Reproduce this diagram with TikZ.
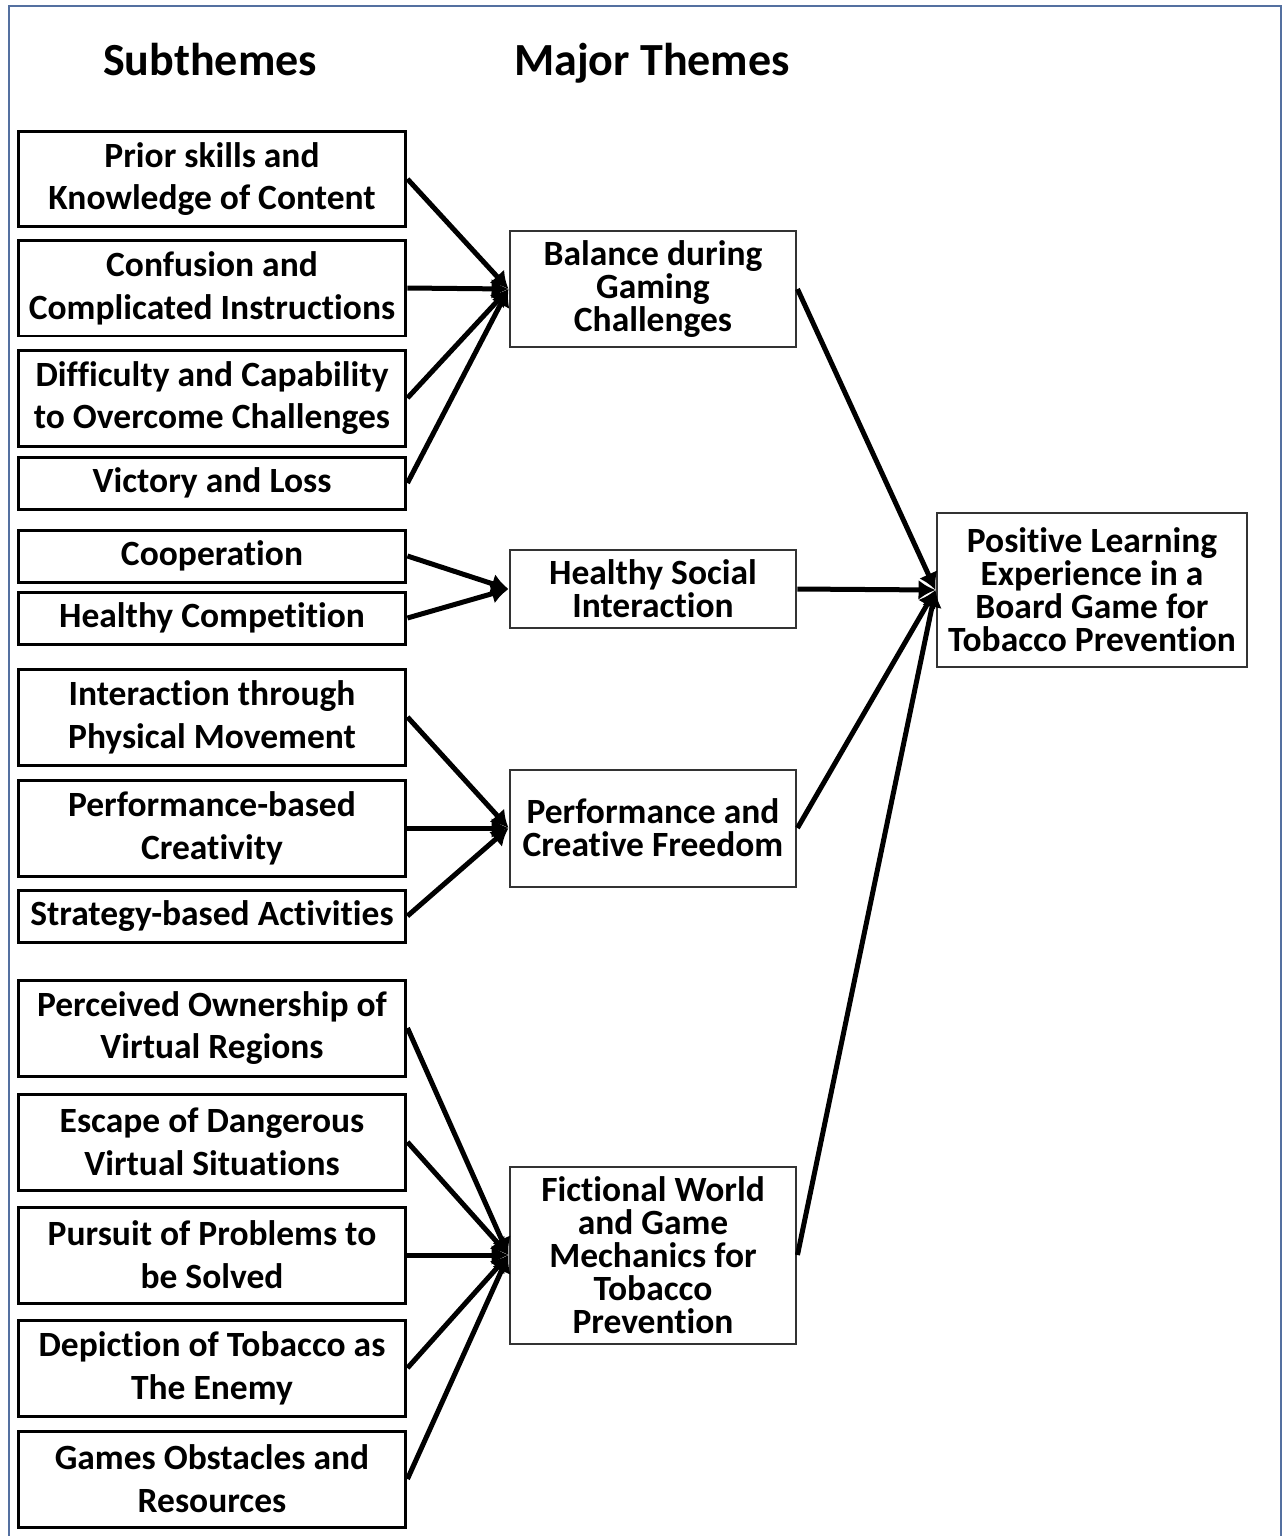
\documentclass[tikz,border=0pt]{standalone}
\usepackage{fontspec}
\setmainfont{Carlito}[Ligatures=NoCommon]
\usetikzlibrary{arrows.meta,positioning}
\definecolor{framecol}{RGB}{84,112,160}

\begin{document}
\begin{tikzpicture}[x=0.02cm,y=-0.02cm]
    \useasboundingbox (0,0) rectangle (1285,1536);
    \draw[framecol, line width=0.04cm] (9,1560) -- (9,6) -- (1281,6) -- (1281,1560);

    \tikzset{every node/.style={align=center,inner sep=0pt},
        sub/.style={draw,line width=0.06cm,minimum width=7.76cm,minimum height=1.92cm,
            font=\bfseries\fontsize{20.2}{24.4}\selectfont},
        subthin/.style={sub,minimum height=1.04cm},
        major/.style={draw=black!80,line width=0.04cm,minimum width=5.74cm,
            font=\bfseries\fontsize{20.2}{18.8}\selectfont},
        head/.style={anchor=base,font=\bfseries\fontsize{26.2}{30}\selectfont},
        arr/.style={line width=0.1cm,-{Latex[length=0.34cm,width=0.4cm]}}}

    % headers
    \node[head] (hsub) at (210,75) {Subthemes};
    \node[head] (hmaj) at (652,75) {Major Themes};

    % subthemes
    \node[sub]     (s1)  at (212,179)  {Prior skills and\\Knowledge of Content};
    \node[sub]     (s2)  at (212,288)  {Confusion and\\Complicated Instructions};
    \node[sub]     (s3)  at (212,398)  {Difficulty and Capability\\to Overcome Challenges};
    \node[subthin] (s4)  at (212,483)  {Victory and Loss};
    \node[subthin] (s5)  at (212,556)  {Cooperation};
    \node[subthin] (s6)  at (212,618)  {Healthy Competition};
    \node[sub]     (s7)  at (212,717)  {Interaction through\\Physical Movement};
    \node[sub]     (s8)  at (212,828)  {Performance-based\\Creativity};
    \node[subthin] (s9)  at (212,916)  {Strategy-based Activities};
    \node[sub]     (s10) at (212,1028) {Perceived Ownership of\\Virtual Regions};
    \node[sub]     (s11) at (212,1142) {Escape of Dangerous\\Virtual Situations};
    \node[sub]     (s12) at (212,1255) {Pursuit of Problems to\\be Solved};
    \node[sub]     (s13) at (212,1368) {Depiction of Tobacco as\\The Enemy};
    \node[sub]     (s14) at (212,1479) {Games Obstacles and\\Resources};

    % major themes
    \node[major,minimum height=2.34cm] (bal)  at (653,289)  {Balance during\\Gaming\\Challenges};
    \node[major,minimum height=1.56cm] (soc)  at (653,589)  {Healthy Social\\Interaction};
    \node[major,minimum height=2.34cm] (perf) at (653,828)  {Performance and\\Creative Freedom};
    \node[major,minimum height=3.54cm] (fic)  at (653,1255) {Fictional World\\and Game\\Mechanics for\\Tobacco\\Prevention};

    \node[major,minimum width=6.22cm,minimum height=3.08cm] (ple) at (1092,590)
        {Positive Learning\\Experience in a\\Board Game for\\Tobacco Prevention};

    % connectors
    \foreach \s in {s1,s2,s3,s4} \draw[arr] (\s.east) -- (bal.west);
    \foreach \s in {s5,s6} \draw[arr] (\s.east) -- (soc.west);
    \foreach \s in {s7,s8,s9} \draw[arr] (\s.east) -- (perf.west);
    \foreach \s in {s10,s11,s12,s13,s14} \draw[arr] (\s.east) -- (fic.west);
    \foreach \m in {bal,soc,perf,fic} \draw[arr] (\m.east) -- (ple.west);
\end{tikzpicture}
\end{document}
